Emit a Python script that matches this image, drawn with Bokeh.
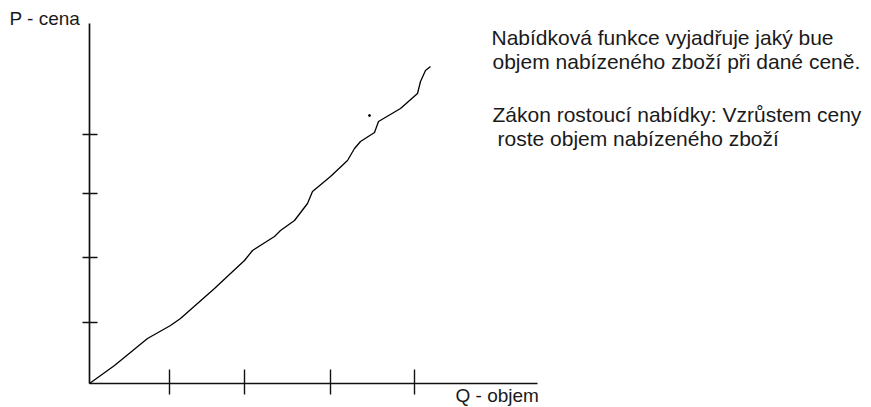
from bokeh.plotting import figure
from bokeh.models import Range1d, Label
from bokeh.embed import file_html
from bokeh.resources import INLINE

# Supply curve (Q - objem, P - cena)
Q_curve = [0, 25, 58, 81, 91, 108, 125, 141, 155, 163, 185, 191, 205, 218, 223,
           241, 258, 265, 271, 285, 289, 311, 328, 331, 336, 341]
P_curve = [0, 18, 45, 58, 65, 80, 95, 110, 123, 133, 147, 153, 163, 180, 192,
           207, 223, 235, 242, 251, 262, 275, 290, 302, 313, 317]
# stray dot near the curve
Q_dot = [280]
P_dot = [268]

# axis extents and tick positions (same units as the curve)
Q_axis_max = 448
P_axis_max = 360
x_ticks = [80, 155, 241, 325]
y_ticks = [61, 126, 190, 249]

x_label = "Q - objem"
y_label = "P - cena"
text_lines = [
    "Nabídková funkce vyjadřuje jaký bue",
    "objem nabízeného zboží při dané ceně.",
    "Zákon rostoucí nabídky: Vzrůstem ceny",
    "roste objem nabízeného zboží",
]

W, H = 871, 407
p = figure(width=W, height=H, output_backend="svg", toolbar_location=None,
           x_range=Range1d(-89, W - 89), y_range=Range1d(-(H - 383), 383),
           x_axis_type=None, y_axis_type=None,
           min_border=0, min_border_left=0, min_border_right=0,
           min_border_top=0, min_border_bottom=0)
p.outline_line_color = None
p.grid.visible = False
p.background_fill_color = "white"
p.border_fill_color = "white"

ax_col = "#111111"
# axis lines
p.segment(x0=[0, 0], y0=[0, 0], x1=[Q_axis_max, 0], y1=[0, P_axis_max],
          line_color=ax_col, line_width=1.7)
# tick crosses
p.segment(x0=x_ticks, y0=[-11] * len(x_ticks), x1=x_ticks, y1=[14] * len(x_ticks),
          line_color=ax_col, line_width=1.4)
p.segment(x0=[-7] * len(y_ticks), y0=y_ticks, x1=[8] * len(y_ticks), y1=y_ticks,
          line_color=ax_col, line_width=1.4)

p.line(Q_curve, P_curve, line_color="black", line_width=1.3)
p.scatter(Q_dot, P_dot, size=2, color="black")

font = "Liberation Sans"
txt_col = "#1a1a1a"
p.add_layout(Label(x=-80, y=365, text=y_label, text_font=font,
                   text_font_size="19px", text_color=txt_col,
                   text_baseline="alphabetic"))
p.add_layout(Label(x=366, y=-12, text=x_label, text_font=font,
                   text_font_size="19px", text_color=txt_col,
                   text_baseline="alphabetic"))

line_pos = [(402, 346.5), (403, 322.5), (403, 269), (408, 245)]
for t, (lx, ly) in zip(text_lines, line_pos):
    p.add_layout(Label(x=lx, y=ly, text=t, text_font=font,
                       text_font_size="21px", text_color=txt_col,
                       text_baseline="alphabetic"))

open("out.html", "w").write(file_html(p, INLINE))
